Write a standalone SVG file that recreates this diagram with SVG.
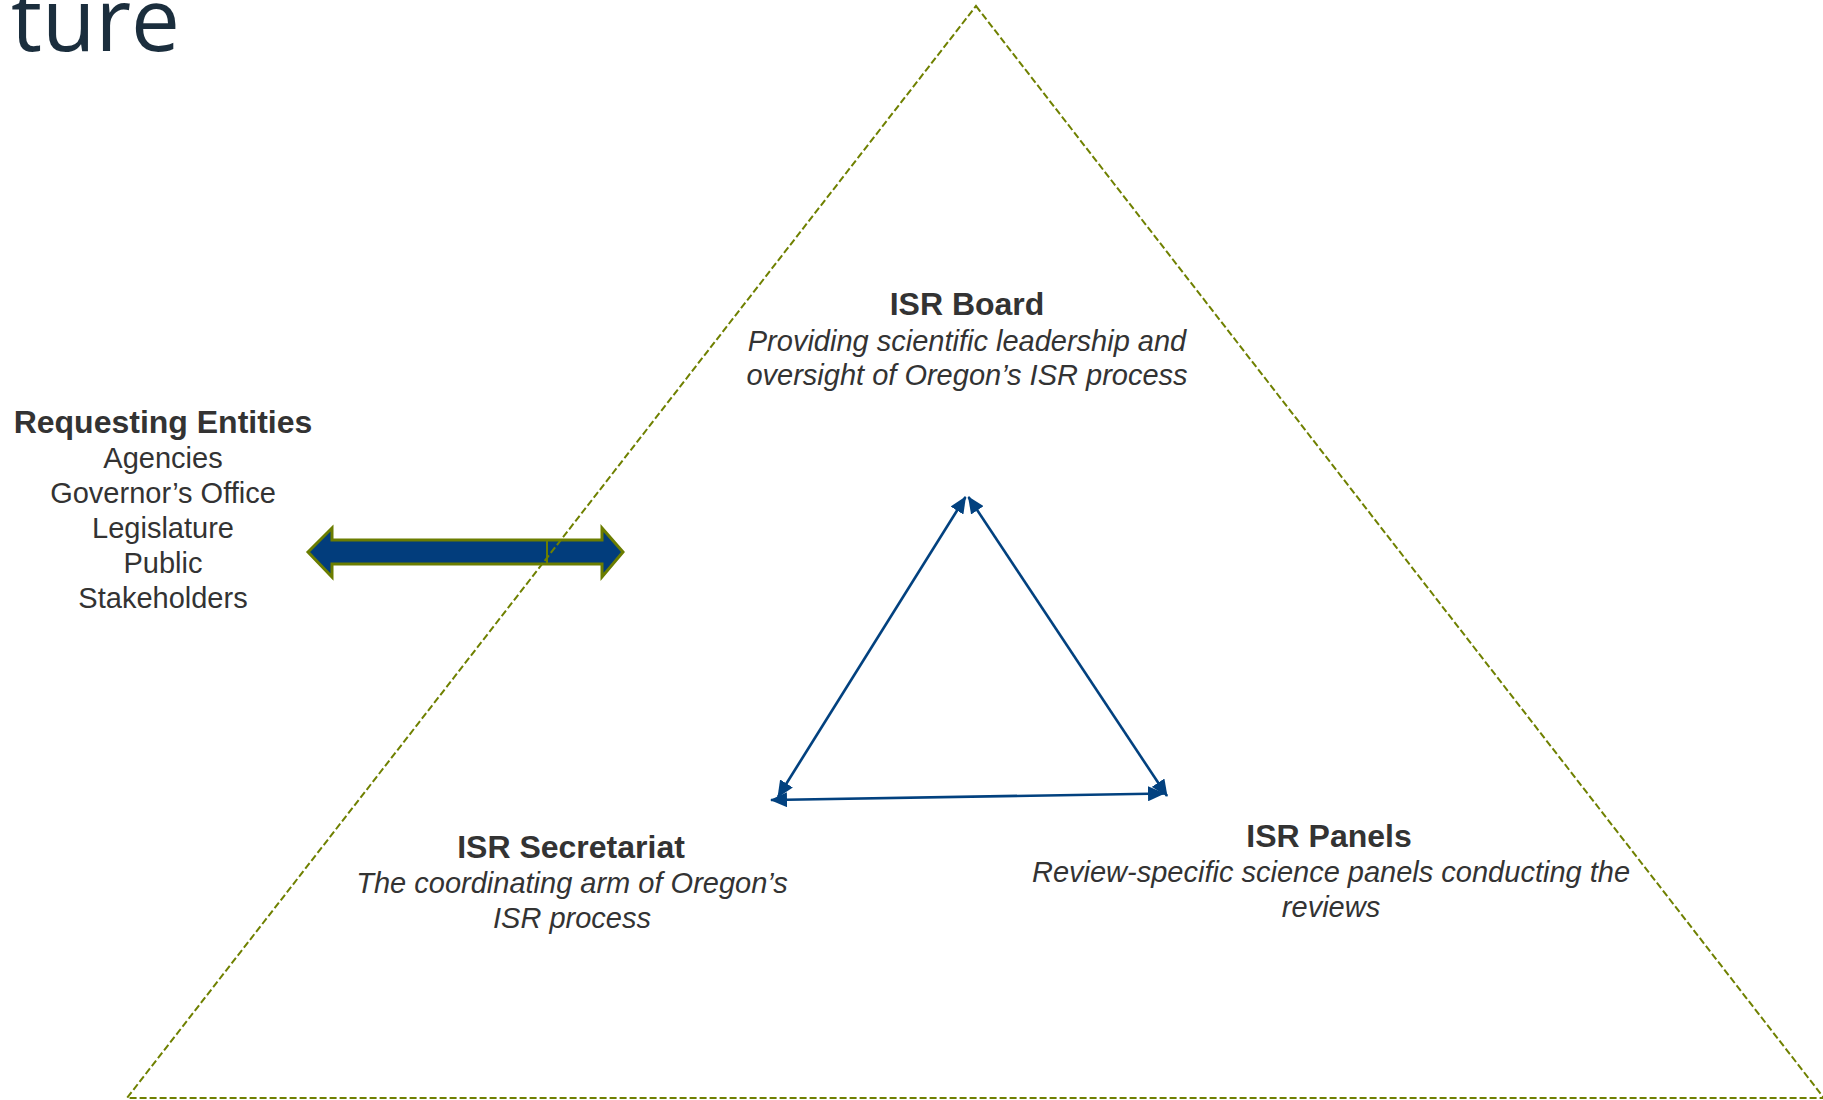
<svg xmlns="http://www.w3.org/2000/svg" width="1823" height="1100" viewBox="0 0 1823 1100">
<style>
  .title { font-family: "Open Sans", "Noto Sans", sans-serif; font-size: 88px; fill: #1b2e3d; }
  .head { font-family: "Liberation Sans", Arial, sans-serif; font-size: 32px; font-weight: bold; fill: #333333; text-anchor: middle; }
  .desc { font-family: "Liberation Sans", Arial, sans-serif; font-size: 29px; font-style: italic; fill: #333333; text-anchor: middle; }
  .list { font-family: "Liberation Sans", Arial, sans-serif; font-size: 29px; fill: #333333; text-anchor: middle; }
  .outer { fill: none; stroke: #6f8000; stroke-width: 2; stroke-dasharray: 7 3; }
  .link { fill: none; stroke: #02417f; stroke-width: 2.6; marker-start: url(#ah); marker-end: url(#ah); }
  .big { fill: #023d7c; stroke: #6b7d00; stroke-width: 3; stroke-linejoin: miter; }
</style>
<defs>
  <marker id="ah" markerUnits="userSpaceOnUse" markerWidth="17" markerHeight="15" refX="16" refY="7.5" orient="auto-start-reverse">
    <path d="M0,0 L17,7.5 L0,15 z" fill="#02417f"/>
  </marker>
</defs>
<rect width="1823" height="1100" fill="#ffffff"/>

<text class="title" x="11" y="51" textLength="169" lengthAdjust="spacingAndGlyphs">ture</text>

<g id="requesting-entities">
  <text class="head" x="163" y="433">Requesting Entities</text>
  <text class="list" x="163" y="468">Agencies</text>
  <text class="list" x="163" y="503">Governor’s Office</text>
  <text class="list" x="163" y="538">Legislature</text>
  <text class="list" x="163" y="573">Public</text>
  <text class="list" x="163" y="608">Stakeholders</text>
</g>

<g id="exchange-arrow">
  <polygon class="big" points="308,552 332,528 332,540 602,540 602,528 623,552 602,577 602,564 332,564 332,577"/>
  <line x1="547" y1="540" x2="547" y2="563" stroke="#6b7d00" stroke-width="2"/>
</g>

<g id="outer-triangle">
  <polygon class="outer" points="976,6 1824,1098 127,1098"/>
</g>

<g id="isr-board">
  <text class="head" x="967" y="315">ISR Board</text>
  <text class="desc" x="967" y="351">Providing scientific leadership and</text>
  <text class="desc" x="967" y="385">oversight of Oregon’s ISR process</text>
</g>

<g id="isr-secretariat">
  <text class="head" x="571" y="858">ISR Secretariat</text>
  <text class="desc" x="572" y="893">The coordinating arm of Oregon’s</text>
  <text class="desc" x="572" y="928">ISR process</text>
</g>

<g id="isr-panels">
  <text class="head" x="1329" y="847">ISR Panels</text>
  <text class="desc" x="1331" y="882">Review-specific science panels conducting the</text>
  <text class="desc" x="1331" y="917">reviews</text>
</g>

<g id="connectors">
  <line class="link" x1="778" y1="797" x2="965.5" y2="497"/>
  <line class="link" x1="968.5" y1="497" x2="1167" y2="796"/>
  <line class="link" x1="771" y1="800" x2="1164" y2="793.5"/>
</g>
</svg>
